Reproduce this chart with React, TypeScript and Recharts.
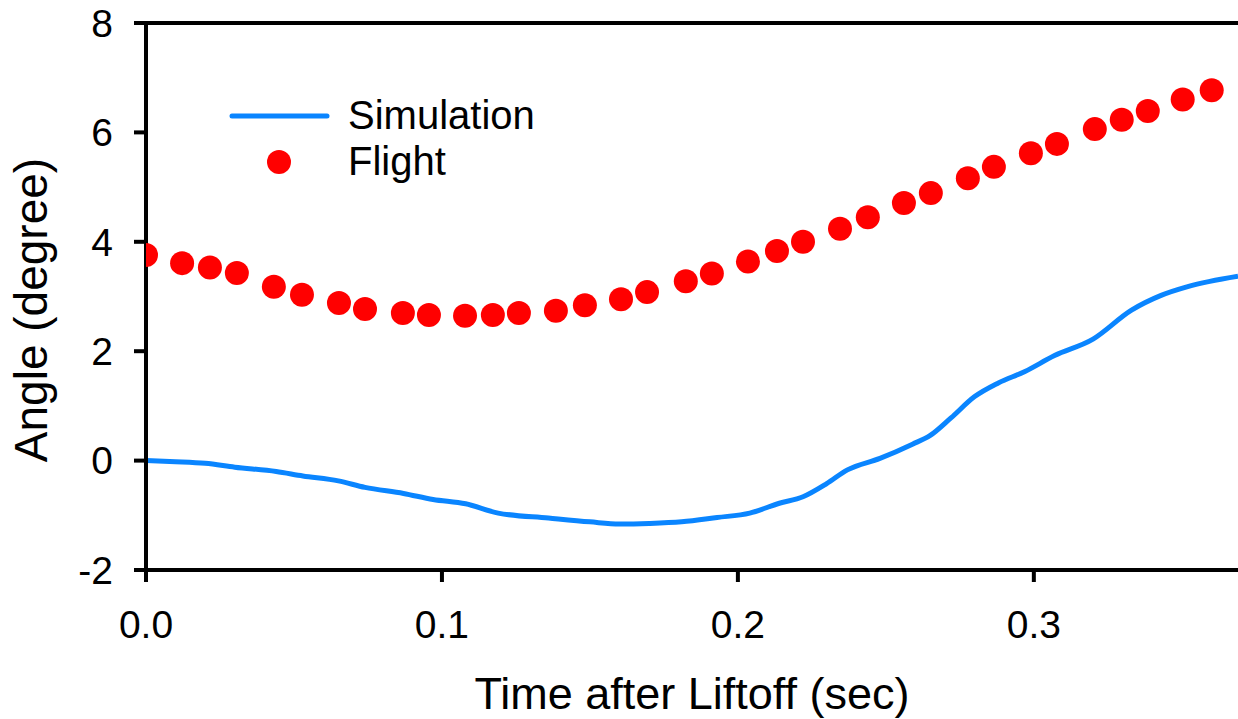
import React from 'react';
import {
  ComposedChart,
  Line,
  Scatter,
  XAxis,
  YAxis,
  ReferenceLine,
  Legend,
  Label,
} from 'recharts';

// Simulated pitch angle (degrees) against time after liftoff (s)
const simTime = [
  0.0, 0.01, 0.02, 0.03, 0.044, 0.053, 0.065, 0.074, 0.087, 0.097, 0.108, 0.119,
  0.136, 0.15, 0.16, 0.17, 0.181, 0.193, 0.204, 0.214, 0.222, 0.23, 0.237, 0.248,
  0.259, 0.265, 0.272, 0.28, 0.288, 0.297, 0.307, 0.32, 0.333, 0.343, 0.352, 0.369,
];
const simAngle = [
  0.0, -0.02, -0.05, -0.12, -0.2, -0.28, -0.37, -0.49, -0.6, -0.71, -0.79, -0.96,
  -1.05, -1.12, -1.16, -1.15, -1.12, -1.04, -0.96, -0.78, -0.66, -0.42, -0.17, 0.04,
  0.3, 0.46, 0.78, 1.17, 1.42, 1.63, 1.92, 2.22, 2.75, 3.02, 3.18, 3.37,
];

// Measured flight angle (degrees)
const flightTime = [
  0.0, 0.0122, 0.0216, 0.0307, 0.0432, 0.0527, 0.0652, 0.074, 0.0868, 0.0956, 0.1078,
  0.1172, 0.126, 0.1385, 0.1483, 0.1605, 0.1693, 0.1824, 0.1912, 0.2034, 0.2132, 0.222,
  0.2345, 0.2439, 0.2561, 0.2652, 0.2777, 0.2865, 0.299, 0.3078, 0.3206, 0.3297, 0.3385,
  0.3503, 0.3601,
];
const flightAngle = [
  3.76, 3.61, 3.53, 3.43, 3.18, 3.03, 2.88, 2.77, 2.7, 2.66, 2.65, 2.66, 2.7, 2.74, 2.84,
  2.95, 3.08, 3.28, 3.42, 3.64, 3.83, 4.0, 4.24, 4.45, 4.71, 4.89, 5.16, 5.37, 5.62, 5.79,
  6.06, 6.23, 6.39, 6.6, 6.77,
];

const xTicks = [0, 0.1, 0.2, 0.3];
const yTicks = [-2, 0, 2, 4, 6, 8];
const legendOrder = ['Simulation', 'Flight'];

const simulation = simTime.map((t, i) => ({ t, angle: simAngle[i] }));
const flight = flightTime.map((t, i) => ({ t, angle: flightAngle[i] }));

const FONT = '"Liberation Sans", Arial, Helvetica, sans-serif';
const BLUE = '#0a85ff';
const RED = '#ff0000';

const FlightDot = (props: any) => {
  const { cx, cy } = props;
  if (cx == null || cy == null) return null;
  return <circle cx={cx} cy={cy} r={12} fill={RED} />;
};

const LegendBox = (props: any) => {
  const payload: any[] = props.payload || [];
  const present = payload.map((p) => p.value);
  const names = legendOrder.filter((n) => present.length === 0 || present.includes(n));
  return (
    <svg width={340} height={100} style={{ display: 'block', overflow: 'visible' }}>
      {names.map((name: string, i: number) => {
        const rowY = 26 + i * 46;
        return (
          <g key={name}>
            {name === 'Simulation' ? (
              <line x1={12} y1={rowY} x2={107} y2={rowY} stroke={BLUE} strokeWidth={5} strokeLinecap="round" />
            ) : (
              <circle cx={59} cy={rowY} r={12} fill={RED} />
            )}
            <text x={128} y={rowY + 13} fontSize={40} fontFamily={FONT} fill="#000">
              {name}
            </text>
          </g>
        );
      })}
    </svg>
  );
};

export default function App() {
  return (
    <div style={{ position: 'absolute', left: 0, top: 0, width: 1238, height: 719, overflow: 'hidden', background: '#fff' }}>
      <ComposedChart
        width={1241}
        height={719}
        margin={{ top: 23, right: 0, bottom: 0, left: 0 }}
      >
        <XAxis
          type="number"
          dataKey="t"
          domain={[0, 0.37]}
          ticks={xTicks}
          allowDataOverflow
          tickFormatter={(v: number) => v.toFixed(1)}
          height={149}
          stroke="#000"
          strokeWidth={4}
          tickSize={12}
          tickMargin={28}
          tick={{ fill: '#000', fontSize: 39, fontFamily: FONT }}
        >
          <Label
            content={() => (
              <text x={692} y={709} textAnchor="middle" fontSize={45} fontFamily={FONT} fill="#000">
                Time after Liftoff (sec)
              </text>
            )}
          />
        </XAxis>
        <YAxis
          type="number"
          domain={[-2, 8]}
          ticks={yTicks}
          allowDataOverflow
          width={146}
          stroke="#000"
          strokeWidth={4}
          tickSize={12}
          tickMargin={21}
          tick={{ fill: '#000', fontSize: 39, fontFamily: FONT }}
        >
          <Label
            content={() => (
              <text
                x={47}
                y={310}
                transform="rotate(-90, 47, 310)"
                textAnchor="middle"
                fontSize={46}
                fontFamily={FONT}
                fill="#000"
              >
                Angle (degree)
              </text>
            )}
          />
        </YAxis>
        <ReferenceLine y={8} stroke="#000" strokeWidth={4} ifOverflow="visible" />
        <Line
          data={simulation}
          dataKey="angle"
          name="Simulation"
          type="monotone"
          stroke={BLUE}
          strokeWidth={5}
          dot={false}
          activeDot={false}
          isAnimationActive={false}
        />
        <Scatter
          data={flight}
          dataKey="angle"
          name="Flight"
          fill={RED}
          shape={FlightDot}
          isAnimationActive={false}
        />
        <Legend
          layout="vertical"
          align="center"
          verticalAlign="middle"
          content={LegendBox}
          wrapperStyle={{ position: 'absolute', left: 220, top: 90, width: 340, height: 100 }}
        />
      </ComposedChart>
    </div>
  );
}
